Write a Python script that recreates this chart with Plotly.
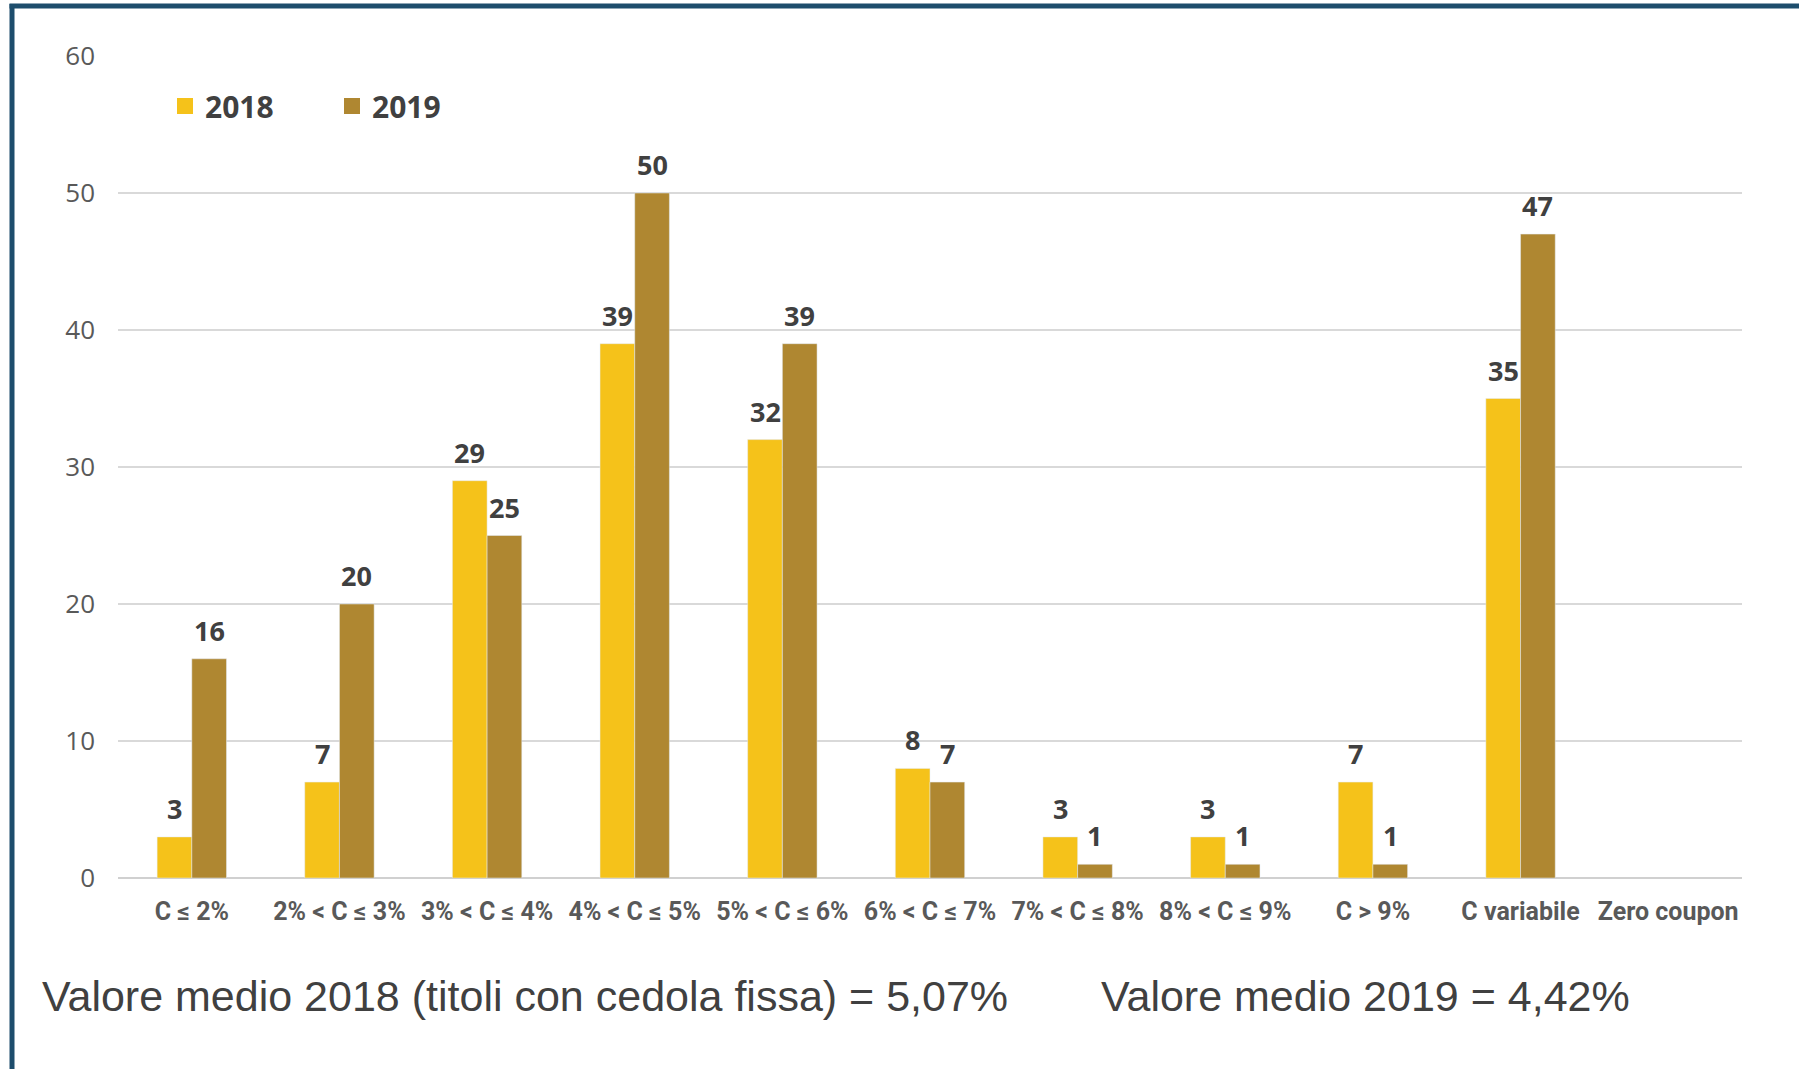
import plotly.graph_objects as go

# Coupon-rate classes and number of issues per year
categories = [
    "C ≤ 2%", "2% < C ≤ 3%", "3% < C ≤ 4%", "4% < C ≤ 5%", "5% < C ≤ 6%",
    "6% < C ≤ 7%", "7% < C ≤ 8%", "8% < C ≤ 9%", "C > 9%", "C variabile", "Zero coupon",
]
values_2018 = [3, 7, 29, 39, 32, 8, 3, 3, 7, 35, None]
values_2019 = [16, 20, 25, 50, 39, 7, 1, 1, 1, 47, None]
y_ticks = [0, 10, 20, 30, 40, 50, 60]
note_2018 = "Valore medio 2018 (titoli con cedola fissa) = 5,07%"
note_2019 = "Valore medio 2019 = 4,42%"

COL_2018 = "#F5C21A"
COL_2019 = "#AF8731"

W, H = 1799, 1069
ML, MR, MT, MB = 118, 57, 56, 191
PW, PH = W - ML - MR, H - MT - MB
BARGAP = 0.53
BAR_PX = PW / len(categories) * (1 - BARGAP) / 2


def px_x(x):
    return (x - ML) / PW


def px_y(y):
    return 1 - (y - MT) / PH


label_font = dict(family="Open Sans", size=27, color="#404040", weight="bold")

fig = go.Figure()
fig.add_trace(go.Bar(name="2018", x=categories, y=values_2018,
                     marker_color=COL_2018, showlegend=False))
fig.add_trace(go.Bar(name="2019", x=categories, y=values_2019,
                     marker_color=COL_2019, showlegend=False))

# square legend keys
for name, col in (("2018", COL_2018), ("2019", COL_2019)):
    fig.add_trace(go.Scatter(name=name, x=[None], y=[None], mode="markers",
                             marker=dict(symbol="square", size=20, color=col)))

annotations = []
# value labels above each bar
for vals, shift in ((values_2018, -BAR_PX / 2), (values_2019, BAR_PX / 2)):
    for cat, v in zip(categories, vals):
        if v is None:
            continue
        annotations.append(dict(
            x=cat, y=v, xref="x", yref="y", text=str(v), showarrow=False,
            xanchor="center", yanchor="bottom", xshift=shift, yshift=8,
            font=label_font,
        ))

annotations += [
    dict(text=note_2018, xref="paper", yref="paper", x=px_x(40), y=px_y(996),
         xanchor="left", yanchor="middle", showarrow=False,
         font=dict(family="Liberation Sans", size=43, color="#404040")),
    dict(text=note_2019, xref="paper", yref="paper", x=px_x(1099), y=px_y(996),
         xanchor="left", yanchor="middle", showarrow=False,
         font=dict(family="Liberation Sans", size=43, color="#404040")),
]

shapes = [
    # frame: left and top edges
    dict(type="line", xref="paper", yref="paper",
         x0=px_x(12), x1=px_x(12), y0=px_y(4), y1=px_y(H + 5),
         line=dict(color="#1d4d6c", width=5)),
    dict(type="line", xref="paper", yref="paper",
         x0=px_x(9.5), x1=px_x(W + 5), y0=px_y(6), y1=px_y(6),
         line=dict(color="#1d4d6c", width=5)),
]

fig.update_layout(
    width=W, height=H,
    margin=dict(l=ML, r=MR, t=MT, b=MB),
    paper_bgcolor="white", plot_bgcolor="white",
    barmode="group", bargap=BARGAP, bargroupgap=0,
    legend=dict(
        orientation="h", x=px_x(165), y=px_y(106), xanchor="left", yanchor="middle",
        font=dict(family="Open Sans", size=30, color="#404040", weight="bold"),
        entrywidth=122, bgcolor="rgba(0,0,0,0)",
    ),
    shapes=shapes,
    annotations=annotations,
    showlegend=True,
)

fig.update_yaxes(
    range=[0, 60], tickvals=y_ticks, showgrid=True, gridcolor="#d9d9d9", gridwidth=1.5,
    zeroline=True, zerolinecolor="#d0d0d0", zerolinewidth=2, showline=False,
    tickfont=dict(family="Open Sans", size=26, color="#595959"),
    ticklabelstandoff=22,
)
fig.update_xaxes(
    showline=False, showgrid=False,
    tickfont=dict(family="Liberation Sans Narrow, Roboto", size=25,
                  color="#595959", weight="bold"),
    ticklabelstandoff=16, tickangle=0,
)

fig.write_html("out.html")
